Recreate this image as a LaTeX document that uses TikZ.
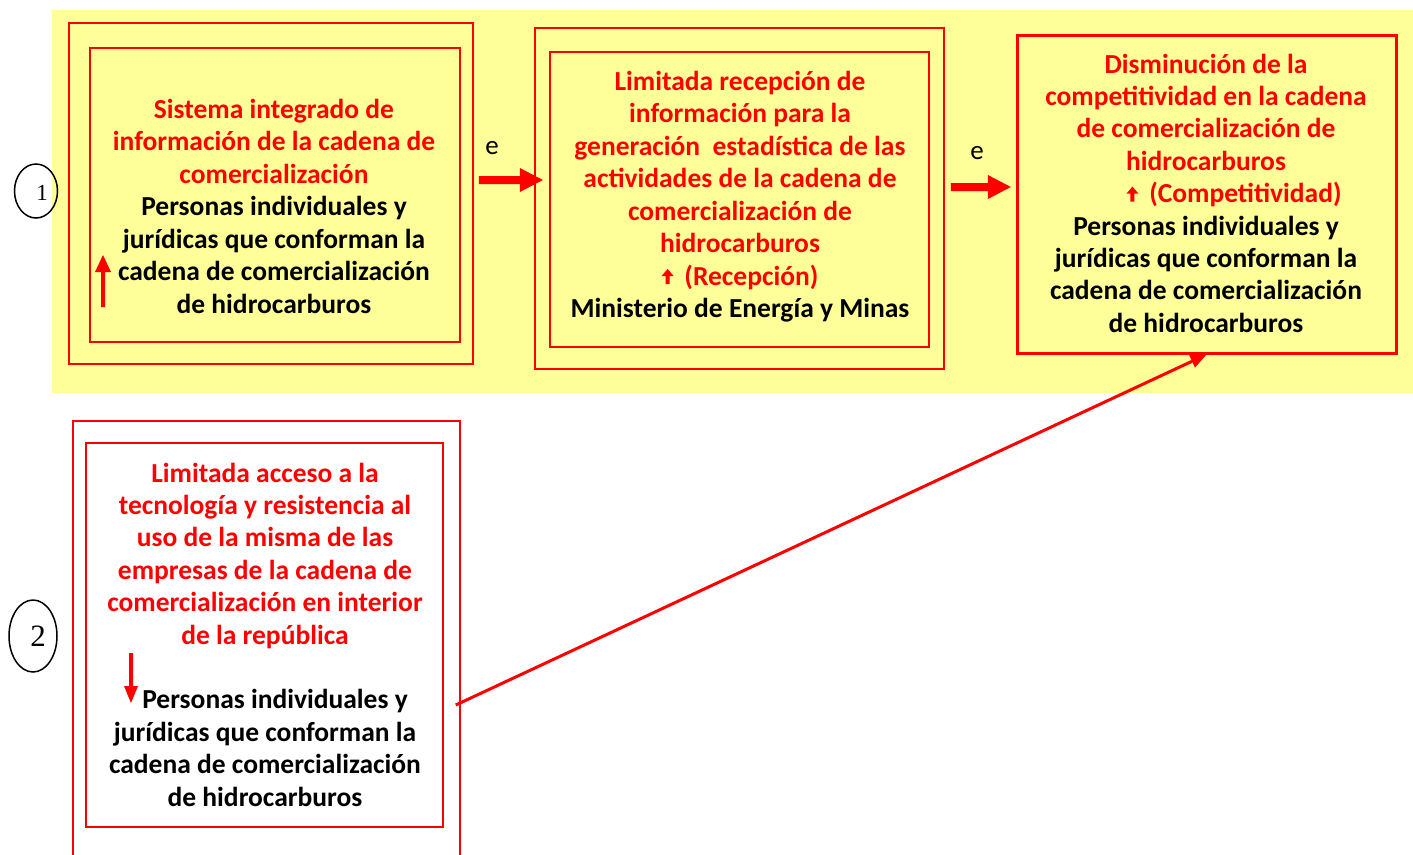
\documentclass[tikz,border=0pt]{standalone}
\usepackage{fontspec}
\setmainfont{Carlito}
\newfontfamily\numfont{Liberation Serif}
\usetikzlibrary{calc,shapes.geometric}
\definecolor{bgyellow}{HTML}{FFFF99}
\definecolor{boxred}{HTML}{FF0000}
\newcommand\uparr{\tikz[baseline=0pt,x=1pt,y=1pt]\fill[boxred] (-2,1)--(2,1)--(2,9)--(6,9)--(0,16)--(-6,9)--(-2,9)--cycle;}
\begin{document}
\begin{tikzpicture}[x=1pt,y=-1pt,
  outerbox/.style={draw=boxred, line width=1.8pt, inner sep=0pt},
  innerbox/.style={draw=boxred, line width=2.6pt, inner sep=0pt},
  ln/.style={anchor=base, inner sep=0pt, font=\fontsize{27.5}{32.5}\selectfont\bfseries},
  redln/.style={ln, text=boxred},
  blackln/.style={ln, text=black},
  elabel/.style={inner sep=0pt, font=\fontsize{27}{32}\selectfont},
  arrowfill/.style={fill=boxred},
  conn/.style={draw=boxred, line width=3pt},
  numcirc/.style={draw=black, line width=1.5pt, ellipse, inner sep=0pt}
]
\useasboundingbox (0,0) rectangle (1413,854);
\fill[bgyellow] (52,10) rectangle (1413,393);

% boxes
\node[outerbox, minimum width=404pt, minimum height=341pt] (b1o) at (271,193.5) {};
\node[innerbox, minimum width=370pt, minimum height=294pt] (b1i) at (275,195) {};
\node[outerbox, minimum width=409pt, minimum height=341pt] (b2o) at (739.5,198.5) {};
\node[innerbox, minimum width=379pt, minimum height=295pt] (b2i) at (739.5,199.5) {};
\node[innerbox, line width=3pt, minimum width=379pt, minimum height=318pt] (b3) at (1206.5,194) {};
\node[outerbox, line width=1.5pt, minimum width=387pt, minimum height=458pt] (b4o) at (266.5,650) {};
\node[innerbox, line width=2pt, minimum width=357pt, minimum height=384pt] (b4i) at (264.5,635) {};

% number circles
\node[numcirc, minimum width=43pt, minimum height=54pt] (c1) at (36,191) {};
\node[inner sep=0pt, font=\numfont\fontsize{23}{25}\selectfont] (n1) at (42,193) {1};
\node[numcirc, minimum width=48pt, minimum height=72pt] (c2) at (33,636) {};
\node[inner sep=0pt, font=\numfont\fontsize{31}{33}\selectfont] (n2) at (38,636) {2};

% box 1 text
\foreach \t [count=\i from 0] in {Sistema integrado de, información de la cadena de, comercialización}
  \node[redln] (t1r\i) at (274,118+32.5*\i) {\t};
\foreach \t [count=\i from 3] in {Personas individuales y, jurídicas que conforman la, cadena de comercialización, de hidrocarburos}
  \node[blackln] (t1b\i) at (274,118+32.5*\i) {\t};

% box 2 text
\foreach \t [count=\i from 0] in {Limitada recepción de, información para la, generación\ \ estadística de las, actividades de la cadena de, comercialización de, hidrocarburos, \uparr\ \,(Recepción)}
  \node[redln] (t2r\i) at (740,90+32.5*\i) {\t};
\node[blackln] (t2b) at (740,90+32.5*7) {Ministerio de Energía y Minas};

% box 3 text
\foreach \t [count=\i from 0] in {Disminución de la, competitividad en la cadena, de comercialización de, hidrocarburos}
  \node[redln] (t3r\i) at (1206,73+32.4*\i) {\t};
\node[redln] (t3r4) at (1234,73+32.4*4) {\uparr\ \,(Competitividad)};
\foreach \t [count=\i from 5] in {Personas individuales y, jurídicas que conforman la, cadena de comercialización, de hidrocarburos}
  \node[blackln] (t3b\i) at (1206,73+32.4*\i) {\t};

% box 4 text
\foreach \t [count=\i from 0] in {Limitada acceso a la, tecnología y resistencia al, uso de la misma de las, empresas de la cadena de, comercialización en interior, de la república}
  \node[redln] (t4r\i) at (265,482+32.4*\i) {\t};
\node[blackln] (t4b7) at (275,482+32.4*7) {Personas individuales y};
\foreach \t [count=\i from 8] in {jurídicas que conforman la, cadena de comercialización, de hidrocarburos}
  \node[blackln] (t4b\i) at (265,482+32.4*\i) {\t};

% e labels
\node[elabel] (e1) at (492,148) {e};
\node[elabel] (e2) at (977,153) {e};

% big block arrows (box 1 -> box 2, box 2 -> box 3)
\coordinate (a1s) at ([xshift=5pt,yshift=13.5pt]b1o.east);
\coordinate (a2s) at ([xshift=6pt,yshift=11.5pt]b2o.east);
\fill[arrowfill] ($(a1s)+(0,-4)$) -- ++(41,0) -- ++(0,-8) -- ++(23,12) -- ++(-23,12) -- ++(0,-8) -- ++(-41,0) -- cycle;
\fill[arrowfill] ($(a2s)+(0,-4)$) -- ++(37,0) -- ++(0,-8) -- ++(23,12) -- ++(-23,12) -- ++(0,-8) -- ++(-37,0) -- cycle;

% small vertical arrows
\fill[arrowfill] (101,307) -- (101,272) -- (95,272) -- (103,255) -- (111,272) -- (105,272) -- (105,307) -- cycle;
\fill[arrowfill] (129,653) -- (129,686) -- (124,686) -- (131,703) -- (138,686) -- (133,686) -- (133,653) -- cycle;

% connector box 4 -> box 3
\coordinate (s4) at ([xshift=-5pt,yshift=-55pt]b4o.east);
\coordinate (h4) at ($(b3.south)!16pt!(s4)$);
\draw[conn] (s4) -- (h4);
\fill[arrowfill] (b3.south) -- ($(h4)!7pt!90:(s4)$) -- ($(h4)!7pt!-90:(s4)$) -- cycle;
\end{tikzpicture}
\end{document}
